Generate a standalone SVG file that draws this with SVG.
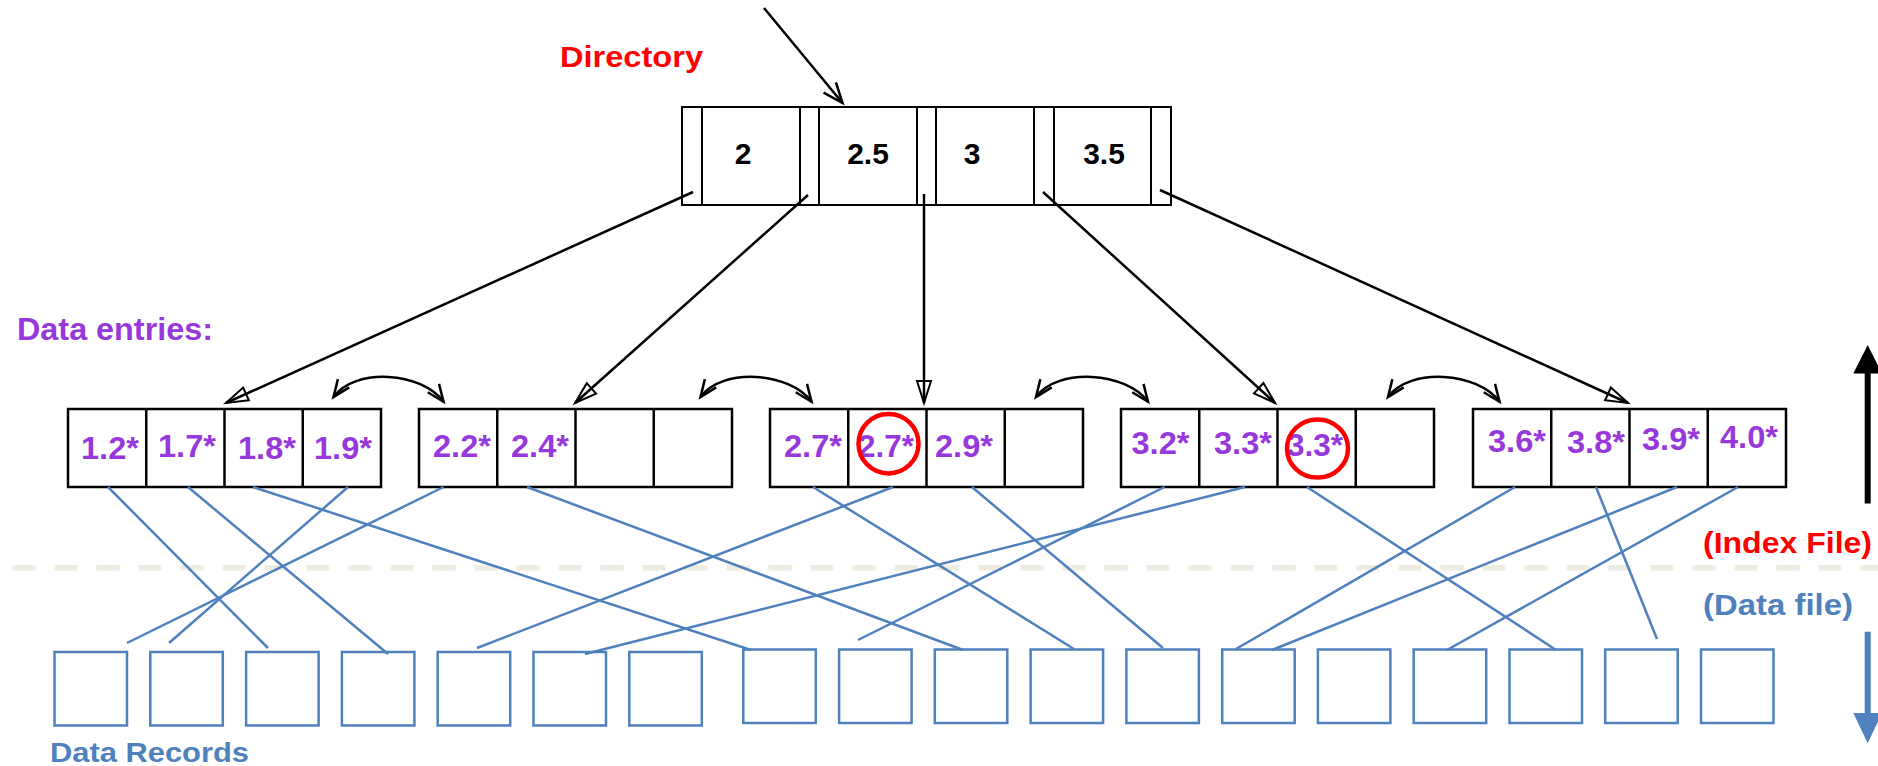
<svg xmlns="http://www.w3.org/2000/svg" width="1878" height="766" viewBox="0 0 1878 766">
<style>
text{font-family:"Liberation Sans",Arial,sans-serif;font-weight:bold}
.k{font-size:30px;fill:#000;text-anchor:middle}
.e{font-size:31px;fill:#9638DC;text-anchor:middle}
.cell{fill:#fff;stroke:#000;stroke-width:2.5}
.dv{stroke:#000;stroke-width:2.5}
.dir{fill:#fff;stroke:#000;stroke-width:2}
.dd{stroke:#000;stroke-width:2}
.rec{fill:none;stroke:#4F81BD;stroke-width:2.5}
.ptr{stroke:#000;stroke-width:2.5;fill:none}
.blue{stroke:#4F81BD;stroke-width:2.5;fill:none}
.circ{fill:none;stroke:#FF0000;stroke-width:4.5}
</style>
<defs>
<marker id="tri" markerUnits="userSpaceOnUse" markerWidth="30" markerHeight="30" refX="22" refY="7" orient="auto" overflow="visible"><path d="M0,0 L22,7 L0,14 Z" fill="none" stroke="#000" stroke-width="2"/></marker>
<marker id="vee" markerUnits="userSpaceOnUse" markerWidth="30" markerHeight="30" refX="20" refY="8" orient="auto" overflow="visible"><path d="M0,0 L20,8 L0,16" fill="none" stroke="#000" stroke-width="2.5"/></marker>
<marker id="vs" markerUnits="userSpaceOnUse" markerWidth="30" markerHeight="30" refX="17" refY="7" orient="auto-start-reverse" overflow="visible"><path d="M0,0 L17,7 L0,14" fill="none" stroke="#000" stroke-width="2.5"/></marker>
</defs>
<rect x="0" y="0" width="1878" height="766" fill="#fff"/>

<g id="divider">
<line x1="12.5" y1="567.7" x2="1878" y2="567.7" stroke="#EEECE1" stroke-width="5.5" stroke-dasharray="23 19"/>
</g>

<g id="labels">
<text x="560" y="67" font-size="30" fill="#FF0000" textLength="143" lengthAdjust="spacingAndGlyphs">Directory</text>
<text x="17" y="340" font-size="31" fill="#9638DC" textLength="196" lengthAdjust="spacingAndGlyphs">Data entries:</text>
<text x="1703" y="553" font-size="30" fill="#FF0000" textLength="169" lengthAdjust="spacingAndGlyphs">(Index File)</text>
<text x="1703" y="615" font-size="29" fill="#4F81BD" textLength="150" lengthAdjust="spacingAndGlyphs">(Data file)</text>
<text x="50" y="762" font-size="28" fill="#4F81BD" textLength="199" lengthAdjust="spacingAndGlyphs">Data Records</text>
</g>

<g id="directory">
<rect class="dir" x="682" y="107" width="489" height="98"/>
<line class="dd" x1="702" y1="107" x2="702" y2="205"/>
<line class="dd" x1="800" y1="107" x2="800" y2="205"/>
<line class="dd" x1="819" y1="107" x2="819" y2="205"/>
<line class="dd" x1="917" y1="107" x2="917" y2="205"/>
<line class="dd" x1="936" y1="107" x2="936" y2="205"/>
<line class="dd" x1="1034" y1="107" x2="1034" y2="205"/>
<line class="dd" x1="1054" y1="107" x2="1054" y2="205"/>
<line class="dd" x1="1151" y1="107" x2="1151" y2="205"/>
<text class="k" x="743" y="164">2</text>
<text class="k" x="868" y="164">2.5</text>
<text class="k" x="972" y="164">3</text>
<text class="k" x="1104" y="164">3.5</text>
</g>

<g id="leaf1">
<rect class="cell" x="68" y="409" width="313" height="78"/>
<line class="dv" x1="146.25" y1="409" x2="146.25" y2="487"/>
<line class="dv" x1="224.5" y1="409" x2="224.5" y2="487"/>
<line class="dv" x1="302.75" y1="409" x2="302.75" y2="487"/>
<text class="e" x="110" y="459" textLength="58" lengthAdjust="spacingAndGlyphs">1.2*</text>
<text class="e" x="187" y="457" textLength="58" lengthAdjust="spacingAndGlyphs">1.7*</text>
<text class="e" x="267" y="459" textLength="58" lengthAdjust="spacingAndGlyphs">1.8*</text>
<text class="e" x="343" y="459" textLength="58" lengthAdjust="spacingAndGlyphs">1.9*</text>
</g>

<g id="leaf2">
<rect class="cell" x="419" y="409" width="313" height="78"/>
<line class="dv" x1="497.25" y1="409" x2="497.25" y2="487"/>
<line class="dv" x1="575.5" y1="409" x2="575.5" y2="487"/>
<line class="dv" x1="653.75" y1="409" x2="653.75" y2="487"/>
<text class="e" x="462" y="457" textLength="58" lengthAdjust="spacingAndGlyphs">2.2*</text>
<text class="e" x="540" y="457" textLength="58" lengthAdjust="spacingAndGlyphs">2.4*</text>
</g>

<g id="leaf3">
<rect class="cell" x="770" y="409" width="313" height="78"/>
<line class="dv" x1="848.25" y1="409" x2="848.25" y2="487"/>
<line class="dv" x1="926.5" y1="409" x2="926.5" y2="487"/>
<line class="dv" x1="1004.75" y1="409" x2="1004.75" y2="487"/>
<text class="e" x="813" y="457" textLength="58" lengthAdjust="spacingAndGlyphs">2.7*</text>
<text class="e" x="886" y="457" textLength="56" lengthAdjust="spacingAndGlyphs">2.7*</text>
<text class="e" x="964" y="457" textLength="58" lengthAdjust="spacingAndGlyphs">2.9*</text>
<ellipse class="circ" cx="888.5" cy="443.7" rx="30" ry="29.7"/>
</g>

<g id="leaf4">
<rect class="cell" x="1121" y="409" width="313" height="78"/>
<line class="dv" x1="1199.25" y1="409" x2="1199.25" y2="487"/>
<line class="dv" x1="1277.5" y1="409" x2="1277.5" y2="487"/>
<line class="dv" x1="1355.75" y1="409" x2="1355.75" y2="487"/>
<text class="e" x="1160.5" y="454" textLength="58" lengthAdjust="spacingAndGlyphs">3.2*</text>
<text class="e" x="1243" y="454" textLength="58" lengthAdjust="spacingAndGlyphs">3.3*</text>
<text class="e" x="1315" y="456" textLength="56" lengthAdjust="spacingAndGlyphs">3.3*</text>
<ellipse class="circ" cx="1317.5" cy="448.5" rx="30.5" ry="29"/>
</g>

<g id="leaf5">
<rect class="cell" x="1473" y="409" width="313" height="78"/>
<line class="dv" x1="1551.25" y1="409" x2="1551.25" y2="487"/>
<line class="dv" x1="1629.5" y1="409" x2="1629.5" y2="487"/>
<line class="dv" x1="1707.75" y1="409" x2="1707.75" y2="487"/>
<text class="e" x="1517" y="452" textLength="58" lengthAdjust="spacingAndGlyphs">3.6*</text>
<text class="e" x="1596" y="453" textLength="58" lengthAdjust="spacingAndGlyphs">3.8*</text>
<text class="e" x="1671" y="450" textLength="58" lengthAdjust="spacingAndGlyphs">3.9*</text>
<text class="e" x="1749" y="448" textLength="58" lengthAdjust="spacingAndGlyphs">4.0*</text>
</g>

<g id="records">
<rect class="rec" x="54.5" y="652" width="72.5" height="73.5"/>
<rect class="rec" x="150.3" y="652" width="72.5" height="73.5"/>
<rect class="rec" x="246.1" y="652" width="72.5" height="73.5"/>
<rect class="rec" x="341.9" y="652" width="72.5" height="73.5"/>
<rect class="rec" x="437.7" y="652" width="72.5" height="73.5"/>
<rect class="rec" x="533.5" y="652" width="72.5" height="73.5"/>
<rect class="rec" x="629.3" y="652" width="72.5" height="73.5"/>
<rect class="rec" x="743.3" y="649.5" width="72.5" height="73.5"/>
<rect class="rec" x="839.1" y="649.5" width="72.5" height="73.5"/>
<rect class="rec" x="934.8" y="649.5" width="72.5" height="73.5"/>
<rect class="rec" x="1030.6" y="649.5" width="72.5" height="73.5"/>
<rect class="rec" x="1126.4" y="649.5" width="72.5" height="73.5"/>
<rect class="rec" x="1222.2" y="649.5" width="72.5" height="73.5"/>
<rect class="rec" x="1317.9" y="649.5" width="72.5" height="73.5"/>
<rect class="rec" x="1413.7" y="649.5" width="72.5" height="73.5"/>
<rect class="rec" x="1509.5" y="649.5" width="72.5" height="73.5"/>
<rect class="rec" x="1605.2" y="649.5" width="72.5" height="73.5"/>
<rect class="rec" x="1701" y="649.5" width="72.5" height="73.5"/>
</g>

<g id="connectors">
<line class="ptr" x1="764" y1="8" x2="842.5" y2="103" marker-end="url(#vee)"/>
<line class="ptr" x1="693" y1="192" x2="226" y2="403" marker-end="url(#tri)"/>
<line class="ptr" x1="808" y1="195" x2="575" y2="403" marker-end="url(#tri)"/>
<line class="ptr" x1="924" y1="194" x2="924" y2="403" marker-end="url(#tri)"/>
<line class="ptr" x1="1043" y1="192" x2="1275" y2="403" marker-end="url(#tri)"/>
<line class="ptr" x1="1160" y1="190" x2="1628" y2="403" marker-end="url(#tri)"/>
<path class="ptr" d="M333.5,397 C355.5,367 421.5,372 443.5,401.7" marker-start="url(#vs)" marker-end="url(#vs)"/>
<path class="ptr" d="M700.5,397 C722.5,367 789.5,372 811.5,401.7" marker-start="url(#vs)" marker-end="url(#vs)"/>
<path class="ptr" d="M1036,397 C1058,367 1126,372 1148,401.7" marker-start="url(#vs)" marker-end="url(#vs)"/>
<path class="ptr" d="M1388,397 C1410,367 1477.5,372 1499.5,401.7" marker-start="url(#vs)" marker-end="url(#vs)"/>
<line class="blue" x1="108" y1="487" x2="268" y2="648"/>
<line class="blue" x1="188" y1="487" x2="388" y2="654"/>
<line class="blue" x1="253" y1="487" x2="751" y2="650"/>
<line class="blue" x1="348" y1="487" x2="169" y2="643"/>
<line class="blue" x1="443.5" y1="487" x2="127" y2="643"/>
<line class="blue" x1="527" y1="487" x2="963" y2="650"/>
<line class="blue" x1="813" y1="487" x2="1074" y2="649"/>
<line class="blue" x1="893" y1="487" x2="477" y2="648"/>
<line class="blue" x1="972" y1="487" x2="1163" y2="648"/>
<line class="blue" x1="1164.5" y1="487" x2="858" y2="640"/>
<line class="blue" x1="1245" y1="487" x2="585" y2="654"/>
<line class="blue" x1="1307" y1="487" x2="1556" y2="650"/>
<line class="blue" x1="1515" y1="487" x2="1236" y2="649"/>
<line class="blue" x1="1596" y1="487" x2="1657" y2="639"/>
<line class="blue" x1="1677" y1="487" x2="1272" y2="650"/>
<line class="blue" x1="1738" y1="487" x2="1447" y2="650"/>
</g>

<g id="side-arrows">
<line x1="1867.7" y1="503.5" x2="1867.7" y2="370" stroke="#000" stroke-width="6"/>
<polygon points="1853.3,373.5 1867.7,345 1882,373.5" fill="#000"/>
<line x1="1867.7" y1="631.7" x2="1867.7" y2="716" stroke="#4F81BD" stroke-width="6"/>
<polygon points="1853.3,713 1867.7,743.3 1882,713" fill="#4F81BD"/>
</g>
</svg>
